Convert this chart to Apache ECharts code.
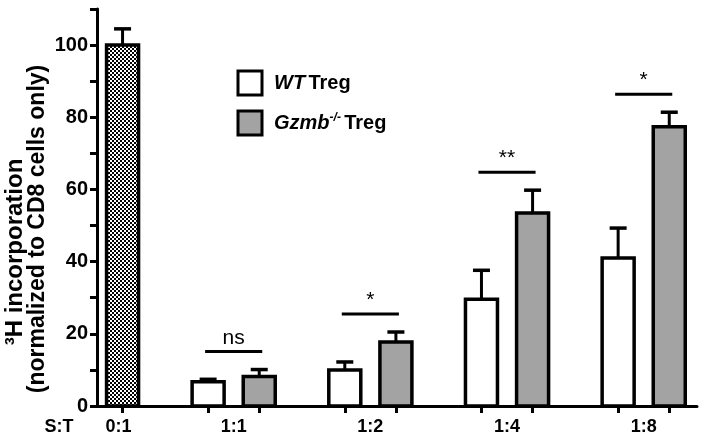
<!DOCTYPE html>
<html><head><meta charset="utf-8">
<script src="https://cdn.jsdelivr.net/npm/echarts@6/dist/echarts.min.js"></script>
<style>html,body{margin:0;padding:0;background:#fff}#c{width:704px;height:444px}</style>
</head><body><div id="c"></div>
<script>
// ---- data ----
const ratios = ['0:1', '1:1', '1:2', '1:4', '1:8'];
const controlValue = [100];
const controlError = [4.5];
const wtValues = [6.7, 10.0, 29.6, 41.0];
const wtErrors = [0.7, 2.2, 8.0, 8.3];
const gzmbValues = [8.2, 17.7, 53.5, 77.4];
const gzmbErrors = [1.9, 2.8, 6.3, 4.0];
const significance = ['ns', '*', '**', '*'];
const yTickLabels = [0, 20, 40, 60, 80, 100];

// ---- layout / style ----
const OFFSET = 0.187;       // slot offset from group centre (x units)
const BAR_W = 32;           // px
const CAP_W = 17;           // px
const SIG_GAP = 5;          // data units above highest error bar
const FONT = '"Liberation Sans", Arial, sans-serif';

const pat = document.createElement('canvas');
pat.width = 4; pat.height = 4;
const pc = pat.getContext('2d');
pc.fillStyle = '#fff'; pc.fillRect(0, 0, 4, 4);
pc.fillStyle = '#000'; pc.fillRect(0, 0, 2, 2); pc.fillRect(2, 2, 2, 2);

const controlData = controlValue.map((v, i) => [i + OFFSET, v, controlError[i]]);
const wtData = wtValues.map((v, i) => [i + 1 - OFFSET, v, wtErrors[i]]);
const gzData = gzmbValues.map((v, i) => [i + 1 + OFFSET, v, gzmbErrors[i]]);
const sigData = significance.map((s, i) => [i + 1 - OFFSET, i + 1 + OFFSET,
  Math.max(wtValues[i] + wtErrors[i], gzmbValues[i] + gzmbErrors[i]) + SIG_GAP, s]);

function barRender(fill) {
  return function (params, api) {
    const x = api.value(0), y = api.value(1), e = api.value(2);
    const top = api.coord([x, y]);
    const base = api.coord([x, 0]);
    const errTop = api.coord([x, y + e]);
    return {
      type: 'group',
      children: [
        { type: 'line', shape: { x1: top[0], y1: top[1], x2: errTop[0], y2: errTop[1] },
          style: { stroke: '#000', lineWidth: 3 } },
        { type: 'line', shape: { x1: errTop[0] - CAP_W / 2, y1: errTop[1], x2: errTop[0] + CAP_W / 2, y2: errTop[1] },
          style: { stroke: '#000', lineWidth: 3.5 } },
        { type: 'rect', shape: { x: top[0] - BAR_W / 2, y: top[1], width: BAR_W, height: base[1] - top[1] },
          style: { fill: fill, stroke: '#000', lineWidth: 3.5 } }
      ]
    };
  };
}

function sigRender(params, api) {
  const a = api.coord([api.value(0), api.value(2)]);
  const b = api.coord([api.value(1), api.value(2)]);
  const label = significance[params.dataIndex];
  return {
    type: 'group',
    children: [
      { type: 'line', shape: { x1: a[0] - 3, y1: a[1], x2: b[0] + 3, y2: b[1] },
        style: { stroke: '#000', lineWidth: 3 } },
      { type: 'text', x: (a[0] + b[0]) / 2, y: a[1] - 3,
        style: { text: label, fill: '#000', font: '21px ' + FONT, align: 'center', verticalAlign: 'bottom' } }
    ]
  };
}

const chart = echarts.init(document.getElementById('c'));
chart.setOption({
  animation: false,
  backgroundColor: '#fff',
  grid: { left: 97, right: 7, top: 9, bottom: 38, containLabel: false },
  xAxis: {
    type: 'value', min: 0, max: 4.39,
    splitLine: { show: false },
    axisLine: { show: true, onZero: false, lineStyle: { color: '#000', width: 3 } },
    axisTick: { show: true, length: 7, lineStyle: { color: '#000', width: 3 },
      customValues: controlData.map(d => d[0]).concat(wtData.map(d => d[0]), gzData.map(d => d[0])) },
    axisLabel: { show: true, margin: 12, color: '#000', fontSize: 18, fontWeight: 'bold', fontFamily: FONT,
      customValues: [OFFSET - 0.03, 1, 2, 3, 4],
      formatter: v => ratios[Math.round(v)] }
  },
  yAxis: {
    type: 'value', min: 0, max: 110, interval: 10,
    splitLine: { show: false },
    axisLine: { show: true, lineStyle: { color: '#000', width: 3 } },
    axisTick: { show: true, length: 7, lineStyle: { color: '#000', width: 3 } },
    axisLabel: { margin: 9, color: '#000', fontSize: 20, fontWeight: 'bold', fontFamily: FONT,
      formatter: v => (yTickLabels.indexOf(v) >= 0 ? String(v) : '') }
  },
  legend: {
    orient: 'vertical', left: 231.5, top: 64.5, itemWidth: 24, itemHeight: 24, itemGap: 13,
    selectedMode: false,
    data: [
      { name: 'WT', icon: 'rect', itemStyle: { color: '#fff', borderColor: '#000', borderWidth: 3 } },
      { name: 'Gzmb', icon: 'rect', itemStyle: { color: '#a3a3a3', borderColor: '#000', borderWidth: 3 } }
    ],
    formatter: n => n === 'WT' ? '{i|WT} {b|Treg}' : '{i|Gzmb}{s|-/-} {b|Treg}',
    textStyle: {
      padding: [0, 0, 0, 7],
      rich: {
        i: { fontFamily: FONT, fontWeight: 'bold', fontStyle: 'italic', fontSize: 20, color: '#000' },
        b: { fontFamily: FONT, fontWeight: 'bold', fontSize: 20, color: '#000' },
        s: { fontFamily: FONT, fontWeight: 'bold', fontStyle: 'italic', fontSize: 12, color: '#000', verticalAlign: 'top', padding: [0, 0, 10, 0] }
      }
    }
  },
  graphic: [
    { type: 'text', x: 15, y: 252, rotation: Math.PI / 2,
      style: { text: '³H incorporation', font: 'bold 24px ' + FONT, fill: '#000', align: 'center', verticalAlign: 'middle' } },
    { type: 'text', x: 38, y: 229, rotation: Math.PI / 2,
      style: { text: '(normalized to CD8 cells only)', font: 'bold 23px ' + FONT, fill: '#000', align: 'center', verticalAlign: 'middle' } },
    { type: 'text', x: 59, y: 427,
      style: { text: 'S:T', font: 'bold 18px ' + FONT, fill: '#000', align: 'center', verticalAlign: 'middle' } }
  ],
  series: [
    { name: 'Control', type: 'custom', renderItem: barRender({ image: pat, repeat: 'repeat' }), data: controlData, z: 3 },
    { name: 'WT', type: 'custom', itemStyle: { color: '#fff' }, renderItem: barRender('#fff'), data: wtData, z: 3 },
    { name: 'Gzmb', type: 'custom', itemStyle: { color: '#a3a3a3' }, renderItem: barRender('#a3a3a3'), data: gzData, z: 3 },
    { name: 'sig', type: 'custom', renderItem: sigRender, data: sigData, z: 3 }
  ]
});
</script>
</body></html>
